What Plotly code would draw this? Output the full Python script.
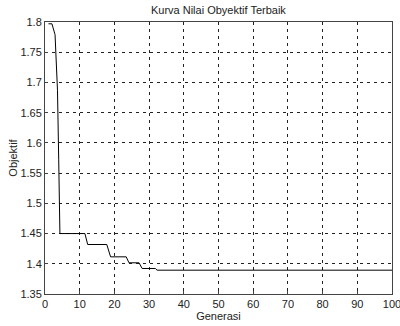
import plotly.graph_objects as go

# breakpoints of the best-objective curve (generation, objective)
generasi = [1, 2.0, 2.9, 3.6, 3.95, 4.3, 11.5, 12.3, 17.8, 18.9, 23.4, 24.2, 27.1, 28.0, 31.8, 32.3, 100]
objektif = [1.797, 1.797, 1.779, 1.687, 1.572, 1.45, 1.45, 1.4319, 1.4319, 1.4115, 1.4115, 1.4016, 1.4016, 1.3922, 1.3922, 1.3894, 1.3894]

x_ticks = [0, 10, 20, 30, 40, 50, 60, 70, 80, 90, 100]
y_ticks = [1.35, 1.4, 1.45, 1.5, 1.55, 1.6, 1.65, 1.7, 1.75, 1.8]
y_labels = ["1.35", "1.4", "1.45", "1.5", "1.55", "1.6", "1.65", "1.7", "1.75", "1.8"]

fig = go.Figure()
fig.add_trace(go.Scatter(x=generasi, y=objektif, mode="lines",
                         line=dict(color="black", width=1), showlegend=False,
                         hoverinfo="skip"))

fam = "Liberation Sans, Arial, sans-serif"
font = dict(family=fam, size=11, color="#222")

fig.update_layout(
    width=400, height=326,
    margin=dict(l=45, r=8, t=22, b=32, autoexpand=False),
    paper_bgcolor="white", plot_bgcolor="white",
    font=font,
    title=dict(text="Kurva Nilai Obyektif Terbaik", x=0.546, xanchor="center",
               y=0.969, yref="container", yanchor="middle",
               font=dict(size=11, family=fam, color="#222")),
    xaxis=dict(range=[0, 100], tickvals=x_ticks, ticktext=[str(t) for t in x_ticks],
               showgrid=True, gridcolor="#222", griddash="3px,4px", gridwidth=1,
               showline=True, mirror=True, linecolor="#444", linewidth=1,
               ticks="inside", ticklen=3, tickcolor="#444", zeroline=False,
               automargin=False, ticklabeloverflow="allow",
               title=dict(text="Generasi", standoff=0, font=dict(size=11)),
               tickfont=dict(size=11)),
    yaxis=dict(range=[1.35, 1.8], tickvals=y_ticks, ticktext=y_labels,
               showgrid=True, gridcolor="#222", griddash="3px,4px", gridwidth=1,
               showline=True, mirror=True, linecolor="#444", linewidth=1,
               ticks="inside", ticklen=3, tickcolor="#444", zeroline=False,
               automargin=False, ticklabeloverflow="allow",
               title=dict(text="Objektif", standoff=0, font=dict(size=11)),
               tickfont=dict(size=11)),
)

fig.write_html("out.html", config={"displayModeBar": False, "staticPlot": True},
               post_script="document.body.style.margin='0';document.body.style.overflow='hidden';")
